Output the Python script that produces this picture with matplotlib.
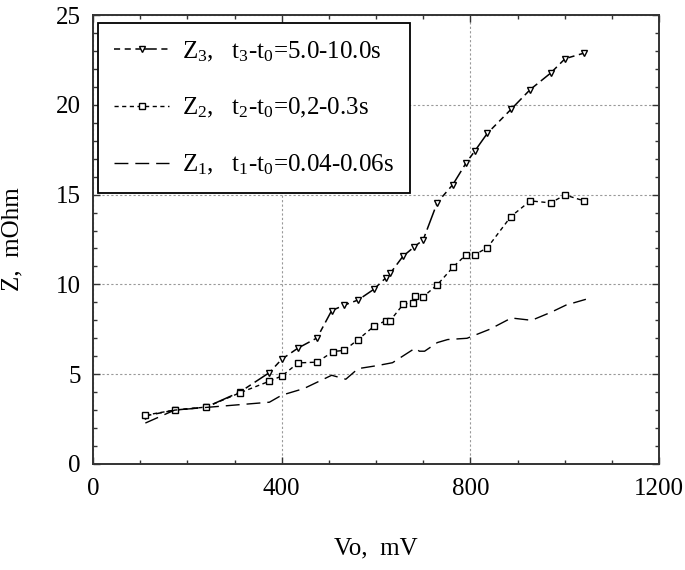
import matplotlib
matplotlib.use("Agg")
import matplotlib.pyplot as plt
from matplotlib.ticker import MultipleLocator

plt.rcParams["font.family"] = ["Liberation Serif", "DejaVu Serif"]
plt.rcParams["mathtext.fontset"] = "custom"
plt.rcParams["mathtext.rm"] = "Liberation Serif"
plt.rcParams["mathtext.default"] = "regular"

# Z3, t3-t0 = 5.0-10.0 s
z3_v = [111, 173, 240, 311, 374, 400, 435, 475, 506, 533, 562, 595, 621, 630,
        657, 681, 700, 730, 763, 791, 809, 836, 886, 927, 970, 1001, 1040]
z3_z = [2.68, 3.0, 3.17, 4.0, 5.09, 5.83, 6.46, 7.02, 8.54, 8.85, 9.13, 9.72, 10.37, 10.61,
        11.56, 12.09, 12.48, 14.56, 15.56, 16.76, 17.41, 18.41, 19.74, 20.85, 21.76, 22.57, 22.87]

# Z2, t2-t0 = 0.2-0.3 s
z2_v = [111, 173, 240, 311, 374, 401, 435, 475, 509, 533, 562, 596, 621, 630,
        658, 679, 683, 700, 730, 764, 791, 809, 836, 886, 927, 970, 1001, 1041]
z2_z = [2.72, 3.0, 3.17, 3.96, 4.61, 4.91, 5.63, 5.67, 6.26, 6.33, 6.93, 7.67, 7.98, 7.98,
        8.9, 8.98, 9.35, 9.31, 9.98, 10.98, 11.65, 11.65, 12.04, 13.78, 14.65, 14.54, 14.98, 14.65]

# Z1, t1-t0 = 0.04-0.06 s
z1_v = [111, 173, 240, 374, 400, 447, 506, 536, 562, 603, 635, 683, 692, 703,
        730, 752, 793, 841, 887, 930, 972, 1003, 1045]
z1_z = [2.28, 3.0, 3.15, 3.44, 3.83, 4.2, 4.94, 4.72, 5.31, 5.48, 5.64, 6.45, 6.28, 6.28,
        6.76, 6.93, 7.0, 7.5, 8.13, 8.0, 8.46, 8.85, 9.17]

labels = [
    "Z$_3$,   t$_3$-t$_0$=5.0-10.0s",
    "Z$_2$,   t$_2$-t$_0$=0,2-0.3s",
    "Z$_1$,   t$_1$-t$_0$=0.04-0.06s",
]

fig = plt.figure(figsize=(6.85, 5.7), dpi=100)
ax = fig.add_axes([93 / 685, (570 - 464) / 570, 566 / 685, 449 / 570])

ax.plot(z3_v, z3_z, color="black", lw=1.1, ls=(0, (4, 3, 4, 3, 14, 3)),
        marker="v", ms=5, mfc="white", mec="black", mew=1.0, label=labels[0])
ax.plot(z2_v, z2_z, color="black", lw=1.0, ls=(0, (3, 2.5)),
        marker="s", ms=5, mfc="white", mec="black", mew=1.0, label=labels[1])
ax.plot(z1_v, z1_z, color="black", lw=1.0, ls=(0, (10, 5)), label=labels[2])

ax.set_xlim(0, 1200)
ax.set_ylim(0, 25)
ax.xaxis.set_major_locator(MultipleLocator(400))
ax.xaxis.set_minor_locator(MultipleLocator(100))
ax.yaxis.set_major_locator(MultipleLocator(5))
ax.yaxis.set_minor_locator(MultipleLocator(1))
ax.tick_params(which="both", direction="in", top=True, right=True, labelsize=18, color="#333333")
ax.tick_params(which="major", length=5, width=1.0)
ax.tick_params(which="minor", length=3, width=1.0)
ax.tick_params(axis="x", pad=10)
ax.tick_params(axis="y", pad=9)
for sp in ax.spines.values():
    sp.set_linewidth(1.4)
    sp.set_color("#333333")

ax.grid(True, which="major", color="#999999", ls=(0, (2, 2)), lw=0.8)

ax.set_xlabel("Vo,  mV", fontsize=18)
ax.set_ylabel("Z,  mOhm", fontsize=18)
ax.xaxis.set_label_coords(0.5, -0.163)
ax.yaxis.set_label_coords(-0.122, 0.5)

leg = ax.legend(loc="upper left", fontsize=18, frameon=True, fancybox=False,
                edgecolor="black", framealpha=1, handlelength=2.2, handletextpad=0.5,
                labelspacing=1.3, borderpad=0.65, borderaxespad=0,
                bbox_to_anchor=(0.009, 0.982))
leg.get_frame().set_linewidth(1.3)

fig.savefig("out.png", dpi=100)
